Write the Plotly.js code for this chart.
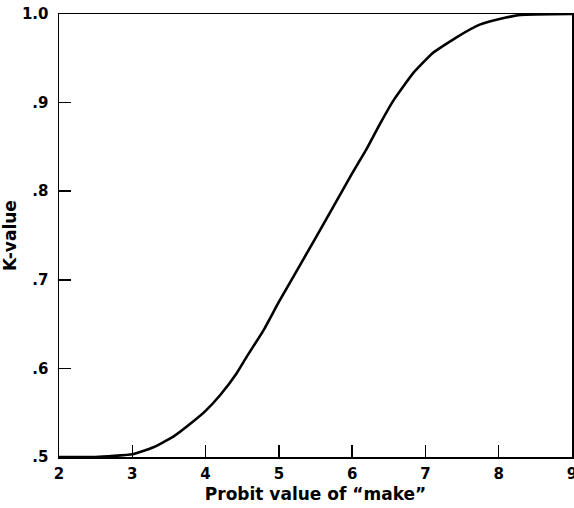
<!DOCTYPE html>
<html>
<head>
<meta charset="utf-8">
<script src="https://cdn.plot.ly/plotly-3.0.1.min.js"></script>
<style>html,body{margin:0;padding:0;background:#fff;}#chart{width:574px;height:508px;}</style>
</head>
<body>
<div id="chart"></div>
<script>
// Curve: K-value vs probit value of "make"
const probit = [2, 2.5, 3, 3.29, 3.56, 3.83, 4.0, 4.2, 4.42, 4.56, 4.79, 5.0, 5.5, 6.0, 6.2, 6.38, 6.56, 6.83, 7.1, 7.43, 7.74, 8.1, 8.3, 9];
const kValue = [0.5, 0.5, 0.503, 0.511, 0.523, 0.540, 0.552, 0.570, 0.594, 0.613, 0.643, 0.675, 0.747, 0.820, 0.848, 0.876, 0.902, 0.933, 0.956, 0.974, 0.988, 0.996, 0.999, 1.0];

const xTickVals = [2, 3, 4, 5, 6, 7, 8, 9];
const xTickText = ["2", "3", "4", "5", "6", "7", "8", "9"];
const yTickVals = [0.5, 0.6, 0.7, 0.8, 0.9, 1.0];
const yTickText = [".5", ".6", ".7", ".8", ".9", "1.0"];

const FONT = "'DejaVu Sans', sans-serif";

const trace = {
  x: probit, y: kValue, type: "scatter", mode: "lines",
  line: {color: "#000", width: 2.6, shape: "spline", smoothing: 0.4},
  hoverinfo: "skip", cliponaxis: false
};

const layout = {
  width: 574, height: 508,
  margin: {l: 59, r: 2, t: 14, b: 51, pad: 0},
  paper_bgcolor: "#fff", plot_bgcolor: "#fff",
  showlegend: false,
  font: {family: FONT, color: "#000", size: 15, weight: "bold"},
  xaxis: {
    range: [2, 9], tickvals: xTickVals, ticktext: xTickText,
    ticks: "inside", ticklen: 12, tickwidth: 1.5, tickcolor: "#000",
    showline: true, linecolor: "#000", linewidth: 1.5, mirror: true,
    showgrid: false, zeroline: false,
    ticklabeloverflow: "allow", ticklabelstandoff: 2,
    tickfont: {family: FONT, size: 15, weight: "bold", color: "#000"},
    title: {text: "Probit value of \u201cmake\u201d", font: {family: FONT, size: 17, weight: "bold", color: "#000"}, standoff: 6},
    automargin: false
  },
  yaxis: {
    range: [0.5, 1.0], tickvals: yTickVals, ticktext: yTickText,
    ticks: "inside", ticklen: 12, tickwidth: 1.5, tickcolor: "#000",
    showline: true, linecolor: "#000", linewidth: 1.5, mirror: true,
    showgrid: false, zeroline: false,
    ticklabeloverflow: "allow", ticklabelstandoff: 6,
    tickfont: {family: FONT, size: 15, weight: "bold", color: "#000"},
    title: {text: "K-value", font: {family: FONT, size: 17, weight: "bold", color: "#000"}, standoff: 3},
    automargin: false
  }
};

Plotly.newPlot("chart", [trace], layout, {staticPlot: true, displayModeBar: false});
</script>
</body>
</html>
